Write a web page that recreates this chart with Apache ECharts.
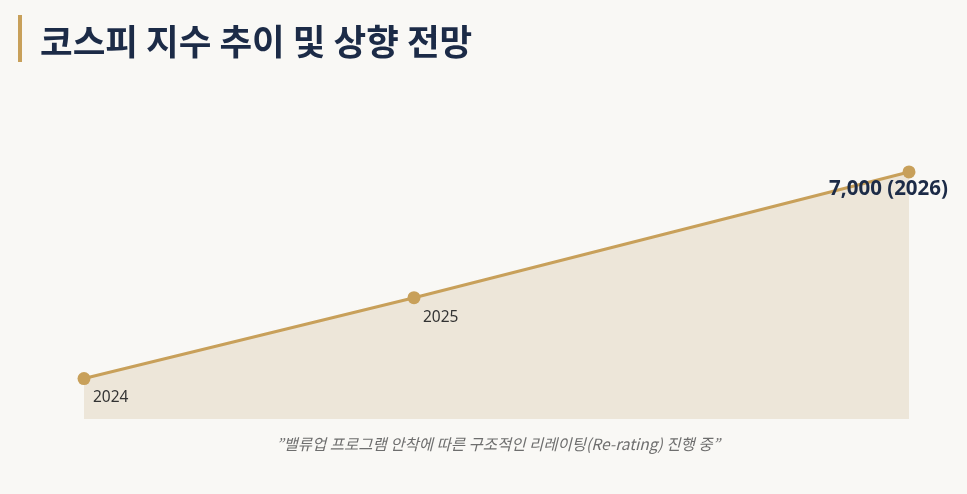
<!DOCTYPE html>
<html>
<head>
<meta charset="utf-8">
<script src="https://cdn.jsdelivr.net/npm/echarts@6/dist/echarts.min.js"></script>
<style>
html,body{margin:0;padding:0;background:#f9f8f5;}
#c{width:967px;height:494px;}
</style>
</head>
<body>
<div id="c"></div>
<script>
// Data
const categories = ['2024', '', '2025', '', '', '2026'];
const values = [2400, null, 4200, null, null, 7000];
const pointLabels = ['2024', '', '2025', '', '', '7,000 (2026)'];
const titleText = '코스피 지수 추이 및 상향 전망';
const noteText = '”밸류업 프로그램 안착에 따른 구조적인 리레이팅(Re-rating) 진행 중”';

const gold = '#c8a05a';
const navy = '#1c2b47';

const seriesData = values.map((v, i) => {
  if (v === null) return null;
  const last = i === values.length - 1;
  return {
    value: v,
    label: last ? {
      show: true, formatter: pointLabels[i], position: 'bottom', align: 'right',
      offset: [39, -5], fontSize: 20.5, fontWeight: 'bold', color: navy,
      fontFamily: 'Noto Sans, sans-serif'
    } : {
      show: true, formatter: pointLabels[i], position: 'bottom', align: 'left',
      offset: [9, 0], fontSize: 15.5, color: '#333', fontFamily: 'Noto Sans, sans-serif'
    }
  };
});

const chart = echarts.init(document.getElementById('c'));
chart.setOption({
  backgroundColor: '#f9f8f5',
  animation: false,
  graphic: [
    { type: 'rect', shape: { x: 18, y: 15, width: 4, height: 47 }, style: { fill: gold } },
    { type: 'text', x: 40, y: 42, style: { text: titleText, font: 'bold 35.5px "Noto Sans CJK KR", sans-serif', fill: navy, verticalAlign: 'middle' } },
    { type: 'text', x: 498, y: 444, style: { text: noteText, font: 'italic 15.5px "Noto Sans CJK KR", sans-serif', fill: '#6e6e6e', align: 'center', verticalAlign: 'middle' } }
  ],
  grid: { left: 84, right: 58, top: 127, bottom: 75 },
  xAxis: {
    type: 'category', data: categories, boundaryGap: false, show: false
  },
  yAxis: { type: 'value', min: 1500, max: 8000, show: false },
  series: [{
    type: 'line',
    data: seriesData,
    connectNulls: true,
    smooth: 0.5,
    symbol: 'circle',
    symbolSize: 13,
    itemStyle: { color: gold },
    lineStyle: { color: gold, width: 3 },
    areaStyle: { color: '#ede6d9', opacity: 1 }
  }]
});
</script>
</body>
</html>
